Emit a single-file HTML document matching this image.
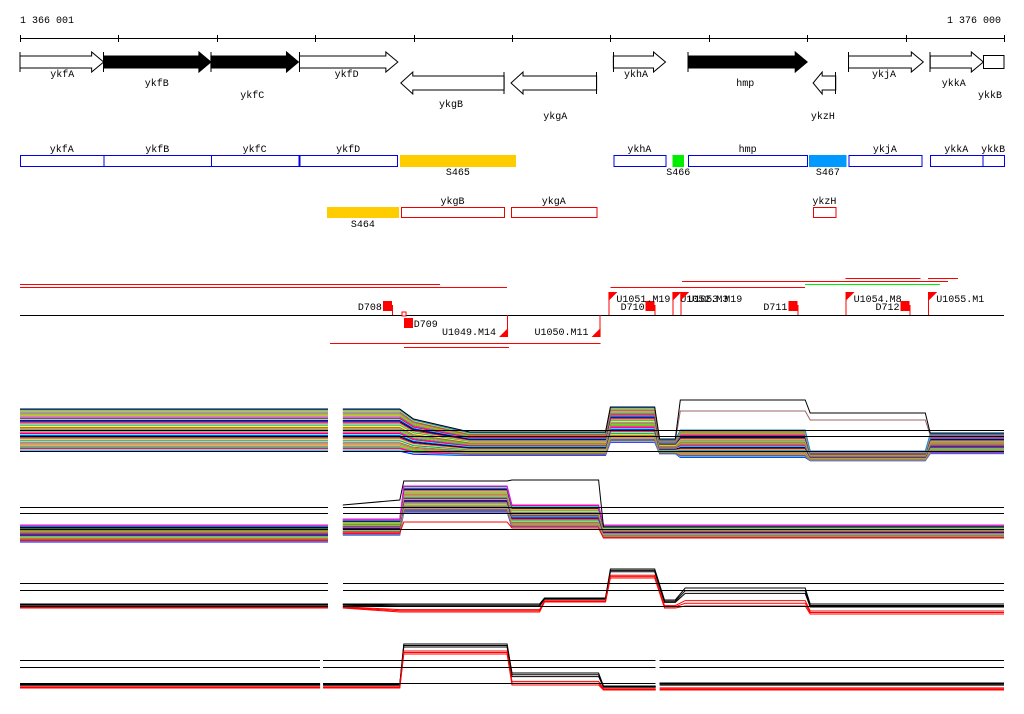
<!DOCTYPE html>
<html><head><meta charset="utf-8"><style>
html,body{margin:0;padding:0;background:#fff;}
svg{display:block;}
text{font-family:"Liberation Mono","DejaVu Sans Mono",monospace;font-size:10px;fill:#000;}
line,rect{shape-rendering:crispEdges;}
</style></head><body>
<svg id="chart" width="1024" height="714" viewBox="0 0 1024 714" xmlns="http://www.w3.org/2000/svg">
<g id="ruler"></g>
<g id="genes"></g>
<g id="boxes"></g>
<g id="annot"></g>
<g id="traces"></g>
</svg>
<script>
// ---- data ----
const startLabel = "1 366 001", endLabel = "1 376 000";
const tickKb = [0,1,2,3,4,5,6,7,8,9,10];
const fwdGenes = [["ykfA",0,0.85,0],["ykfB",0.85,1.94,1],["ykfC",1.94,2.83,1],["ykfD",2.84,3.84,0],["ykhA",6.03,6.56,0],["hmp",6.79,8.0,1],["ykjA",8.42,9.18,0],["ykkA",9.25,9.79,0]];
const fwdLabelPos = [[0.43,77],[1.39,86],[2.36,98],[3.32,77],[6.26,77],[7.37,86],[8.78,77],[9.49,86]];
const revGenes = [["ykgB",3.87,4.92],["ykgA",4.99,5.86],["ykzH",8.06,8.29]];
const revLabelPos = [[4.38,107],[5.44,119],[8.16,119]];
const cdsBoxes = [["ykfA",0,0.85],["ykfB",0.85,1.94],["ykfC",1.94,2.83],["ykfD",2.84,3.83],["ykhA",6.03,6.56],["hmp",6.79,8.0],["ykjA",8.42,9.16],["ykkA",9.25,9.78],["ykkB",9.78,10]];
const segBoxes = [["S465",3.86,5.04,"#ffcc00",155],["S466",6.63,6.75,"#00ee00",155],["S467",8.02,8.4,"#0099ff",155],["S464",3.12,3.85,"#ffcc00",207]];
const redBoxes = [["ykgB",3.87,4.92],["ykgA",4.99,5.86],["ykzH",8.06,8.29]];
const annLines = [[0,4.27,284,"#ff0000"],[0,4.95,287,"#ff0000"],[6.73,9.43,281,"#ff0000"],[6.0,7.98,287,"#ff0000"],[7.98,9.35,284,"#00ee00"],[8.39,9.15,278,"#ff0000"],[9.23,9.53,278,"#ff0000"],[3.15,5.9,343,"#ff0000"],[3.9,4.97,347,"#ff0000"]];
const squaresUp = [["D708",3.78],["D710",6.45],["D711",7.9],["D712",9.04]];
const squaresDown = [["D709",3.89]];
const flagsUp = [["U1051.M19",5.98],["U1052.M3",6.63],["U1053.M19",6.71],["U1054.M8",8.39],["U1055.M1",9.23]];
const flagsDown = [["U1049.M14",4.96],["U1050.M11",5.9]];

// ---- expression panels ----
const p1Knots = [0,3.13,3.28,3.86,4.0,4.57,5.95,6.0,6.45,6.5,6.66,6.71,7.98,8.03,9.2,9.25,10];
const p1Top = [11,11,11,11,9,6.4,6.4,11.4,11.4,5,5,7,7,2.8,2.8,6.2,6.2];
const p1Bot = [2.6,2.6,2.6,2.6,2,1.8,1.8,4.4,4.4,2.2,2.2,1.4,1.4,0.8,0.8,2.2,2.2];
const p1Black = [11.2,11.2,11.2,11.2,9.2,6.6,6.6,11.6,11.6,5.2,5.2,13,13,10.4,10.4,6.4,6.4];
const p1Brown = [10.6,10.6,10.6,10.6,8.6,6,6,11,11,4.8,4.8,10.8,10.8,9,9,6,6];
const p1Offsets = [0.02,0.05,0.08,0.1,0.13,0.16,0.19,0.22,0.25,0.27,0.3,0.33,0.36,0.39,0.41,0.44,0.47,0.5,0.53,0.55,0.58,0.61,0.64,0.66,0.69,0.72,0.75,0.78,0.8,0.83,0.86,0.89,0.92,0.95,0.98,1.0];

const p2Knots = [0,3.13,3.28,3.86,3.9,4.95,5.0,5.88,5.93,10];
const p2Top = [4,4,5.2,5.2,11.8,11.8,8,8,4,4];
const p2Bot = [0.6,0.6,2,2,6.6,6.6,3.4,3.4,1.4,1.4];
const p2Black = [3.4,3.4,8,9,12.8,12.8,13,13,3.6,3.6];
const p2Red = [1,1,2.4,2.4,4.6,4.6,3.4,3.4,1.4,1.4];
const p2Offsets = [0.0,0.04,0.07,0.1,0.14,0.17,0.21,0.24,0.28,0.31,0.35,0.38,0.42,0.45,0.49,0.52,0.56,0.59,0.63,0.66,0.7,0.73,0.77,0.8,0.84,0.87,0.91,0.94,0.98,1.0];

const p3Knots = [0,3.13,3.28,3.86,5.28,5.33,5.9,5.95,6.0,6.45,6.55,6.66,6.76,7.98,8.03,10];
const p3Top = [4,4,4,4,4,5.5,5.5,5.5,12.75,12.75,5,5,8,8,4,4];
const p3Bot = [3,3,3,2,2,4.5,4.5,4.5,10.5,10.5,3,3,3.5,3.5,1.5,1.5];
const p3Offsets = [1.0,0.85,0.7,0.3,0.15,0.0];

const p4Knots = [0,3.05,3.08,3.86,3.9,4.95,5.0,5.88,5.93,6.46,6.5,10];
const p4Top = [2.75,2.75,2.75,2.75,12.75,12.75,5.5,5.5,2.25,2.25,3,3];
const p4Bot = [1.75,1.75,1.75,1.75,10.25,10.25,2.5,2.5,1.25,1.25,1.25,1.25];
const p4Offsets = [1.0,0.85,0.7,0.3,0.15,0.0];

const panels = [
 {name:"panel-1",y0:465,k:5,hl:[430.5,436.5,451.5],knots:p1Knots,top:p1Top,bot:p1Bot,off:p1Offsets,gaps:[[3.13,3.28]],extra:[[p1Brown,"#996666"],[p1Black,"#000"]],mode:"color"},
 {name:"panel-2",y0:545,k:5,hl:[507.5,513.5,529.5],knots:p2Knots,top:p2Top,bot:p2Bot,off:p2Offsets,gaps:[[3.13,3.28]],extra:[[p2Red,"#ff0000"],[p2Black,"#000"]],mode:"color"},
 {name:"panel-3",y0:620,k:4,hl:[583.5,590.5,606.5],knots:p3Knots,top:p3Top,bot:p3Bot,off:p3Offsets,gaps:[[3.13,3.28]],extra:[],mode:"br"},
 {name:"panel-4",y0:695,k:4,hl:[660.5,667.5,683.5],knots:p4Knots,top:p4Top,bot:p4Bot,off:p4Offsets,gaps:[[3.05,3.08],[6.46,6.5]],extra:[],mode:"br"}
];
const palette = ["#0000ff","#00ffff","#ff0000","#ff00ff","#00ff00","#ff8800","#888888","#996633","#ffff00","#0088ff","#aaff00","#ff0088","#000000"];

// ---- helpers ----
const NS = "http://www.w3.org/2000/svg";
const X = kb => 20 + kb * 98.4;
function mk(tag, attrs, parent){const e=document.createElementNS(NS,tag);for(const a in attrs)e.setAttribute(a,attrs[a]);parent.appendChild(e);return e;}
function txt(s,x,y,anchor,parent,color){const t=mk("text",{x:x,y:y,"text-anchor":anchor||"middle"},parent);if(color)t.setAttribute("fill",color);t.textContent=s;return t;}

const ruler=document.getElementById("ruler");
let l=mk("line",{x1:20,y1:38.5,x2:1004,y2:38.5,stroke:"#000"},ruler);


tickKb.forEach(t=>{const tk=mk("line",{x1:Math.round(X(t))+0.5,y1:35,x2:Math.round(X(t))+0.5,y2:42,stroke:"#000"},ruler);

});
let st=txt(startLabel,20,23,"start",ruler);


let en=txt(endLabel,1001,23,"end",ruler);



const genes=document.getElementById("genes");
fwdGenes.forEach((g,i)=>{const x1=X(g[1]),x2=X(g[2]);const h=Math.min(12,(x2-x1)*0.4);
 const p=mk("polygon",{points:`${x1},56 ${x2-h},56 ${x2-h},52 ${x2},62 ${x2-h},72 ${x2-h},68 ${x1},68`,fill:g[3]?"#000":"#fff",stroke:"#000"},genes);
 
 
 mk("line",{x1:x1,y1:52,x2:x1,y2:72,stroke:"#000"},genes);
 const t=txt(g[0],X(fwdLabelPos[i][0]),fwdLabelPos[i][1],"middle",genes);
 
 });
let kb=mk("rect",{x:X(9.79),y:55.5,width:X(10)-X(9.79),height:13,fill:"#fff",stroke:"#000"},genes);


let kbt=txt("ykkB",990,98,"middle",genes);


revGenes.forEach((g,i)=>{const x1=X(g[1]),x2=X(g[2]);const h=Math.min(12,(x2-x1)*0.4);
 const p=mk("polygon",{points:`${x2},76 ${x1+h},76 ${x1+h},72 ${x1},83 ${x1+h},94 ${x1+h},90 ${x2},90`,fill:"#fff",stroke:"#000"},genes);
 
 
 mk("line",{x1:x2,y1:72,x2:x2,y2:94,stroke:"#000"},genes);
 const t=txt(g[0],X(revLabelPos[i][0]),revLabelPos[i][1],"middle",genes);
 
 });

const boxes=document.getElementById("boxes");
cdsBoxes.forEach(b=>{const r=mk("rect",{x:X(b[1])+0.5,y:155.5,width:X(b[2])-X(b[1]),height:11,fill:"#fff",stroke:"#0000ee"},boxes);
 
 
 const t=txt(b[0],(X(b[1])+X(b[2]))/2,152,"middle",boxes);
 
 });
segBoxes.forEach(b=>{const r=mk("rect",{x:X(b[1]),y:b[4],width:X(b[2])-X(b[1]),height:b[4]==155?12:11,fill:b[3]},boxes);
 
 
 const t=txt(b[0],(X(b[1])+X(b[2]))/2,b[4]+20,"middle",boxes);
 
 });
redBoxes.forEach(b=>{const r=mk("rect",{x:X(b[1])+0.5,y:207.5,width:X(b[2])-X(b[1]),height:10,fill:"#fff",stroke:"#ee0000"},boxes);
 
 
 const t=txt(b[0],(X(b[1])+X(b[2]))/2,204,"middle",boxes);
 
 });

const annot=document.getElementById("annot");
let ax=mk("line",{x1:20,y1:315.5,x2:1004,y2:315.5,stroke:"#000"},annot);


annLines.forEach(a=>{const e=mk("line",{x1:X(a[0]),y1:a[2]+0.5,x2:X(a[1]),y2:a[2]+0.5,stroke:a[3],"stroke-width":1.2},annot);
 
 });
squaresUp.forEach(s=>{const x=X(s[1]);mk("line",{x1:x+0.5,y1:305,x2:x+0.5,y2:315,stroke:"#ff0000"},annot);
 const r=mk("rect",{x:x-9,y:301,width:9,height:10,fill:"#ff0000"},annot);
 
 
 const t=txt(s[0],x-10,310,"end",annot);
 
 });
squaresDown.forEach(s=>{const x=X(s[1]);mk("rect",{x:x-1,y:312,width:4,height:4,fill:"#fff",stroke:"#ff0000"},annot);
 const r=mk("rect",{x:x+1,y:318,width:9,height:10,fill:"#ff0000"},annot);
 
 
 const t=txt(s[0],x+11,327,"start",annot);
 
 });
flagsUp.forEach(f=>{const x=X(f[1]);mk("line",{x1:x+0.5,y1:292,x2:x+0.5,y2:315,stroke:"#ff0000"},annot);
 const p=mk("polygon",{points:`${x},292 ${x+9},292 ${x},301`,fill:"#ff0000"},annot);
 
 
 const t=txt(f[0],x+8,302,"start",annot);
 
 });
flagsDown.forEach(f=>{const x=X(f[1]);mk("line",{x1:x-0.5,y1:315,x2:x-0.5,y2:337,stroke:"#ff0000"},annot);
 const p=mk("polygon",{points:`${x},328 ${x},337 ${x-9},337`,fill:"#ff0000"},annot);
 
 
 const t=txt(f[0],x-12,335,"end",annot);
 
 });

const tr=document.getElementById("traces");
function inGap(a,b,gaps){return gaps.some(g=>a>=g[0]-1e-6&&b<=g[1]+1e-6);}
function drawSeries(P,vals,color,g,name){
 let pts=[];const segs=[];
 for(let i=0;i<P.knots.length;i++){
  if(i>0&&inGap(P.knots[i-1],P.knots[i],P.gaps)){segs.push(pts);pts=[];}
  pts.push(X(P.knots[i]).toFixed(1)+","+(P.y0-vals[i]*P.k).toFixed(1));
 }
 segs.push(pts);
 segs.forEach(s=>{if(s.length<2)return;const pl=mk("polyline",{points:s.join(" "),fill:"none",stroke:color,"stroke-width":1},g);
  
  });
}
panels.forEach(P=>{
 const g=mk("g",{},tr);
 
 
 P.off.forEach((o,j)=>{
  const vals=P.knots.map((_,i)=>P.bot[i]+(P.top[i]-P.bot[i])*o);
  let c;
  if(P.mode==="br") c = o>0.5?"#000":"#ff0000";
  else c = palette[j%palette.length];
  drawSeries(P,vals,c,g,"expression-trace");
 });
 P.extra.forEach(e=>drawSeries(P,e[0],e[1],g,"expression-trace-highlight"));
 P.hl.forEach(y=>{
  let out=[],cur=0;P.gaps.forEach(gp=>{out.push([cur,gp[0]]);cur=gp[1];});out.push([cur,10]);
  out.forEach(s=>{const hl=mk("line",{x1:X(s[0]),y1:y,x2:X(s[1]),y2:y,stroke:"#000"},g);
   
   });
 });
});
</script>
</body></html>
